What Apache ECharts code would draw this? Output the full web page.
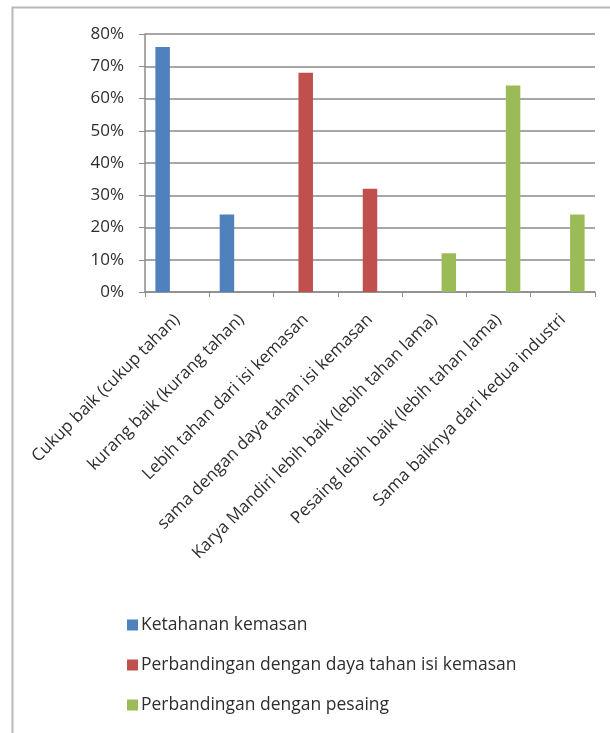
<!DOCTYPE html>
<html>
<head>
<meta charset="utf-8">
<script src="https://cdn.jsdelivr.net/npm/echarts@6/dist/echarts.min.js"></script>
<style>
  html, body { margin: 0; padding: 0; background: #fff; }
  #chart { width: 610px; height: 733px; }
</style>
</head>
<body>
<div id="chart"></div>
<script>
// Survey answers, one category per answer option
const categories = [
  'Cukup baik (cukup tahan)',
  'kurang baik (kurang tahan)',
  'Lebih tahan dari isi kemasan',
  'sama dengan daya tahan isi kemasan',
  'Karya Mandiri lebih baik (lebih tahan lama)',
  'Pesaing lebih baik (lebih tahan lama)',
  'Sama baiknya dari kedua industri'
];

const seriesNames = [
  'Ketahanan kemasan',
  'Perbandingan dengan daya tahan isi kemasan',
  'Perbandingan dengan pesaing'
];

// Percentages per series (null where the series has no answer)
const ketahanan = [76, 24, null, null, null, null, null];
const dayaTahan = [null, null, 68, 32, null, null, null];
const pesaing   = [null, null, null, null, 12, 64, 24];

const yTicks = [0, 10, 20, 30, 40, 50, 60, 70, 80];

const colors = ['#4F81BD', '#C0504D', '#9BBB59'];
const font = '"Open Sans", "DejaVu Sans", sans-serif';
const textColor = '#2e2e2e';

const chart = echarts.init(document.getElementById('chart'), null, { renderer: 'canvas' });

const mkSeries = (name, data, color) => ({
  name,
  type: 'bar',
  data,
  barWidth: 14.5,
  barGap: '0%',
  itemStyle: { color },
  emphasis: { disabled: true }
});

chart.setOption({
  animation: false,
  color: colors,
  graphic: [{
    type: 'rect',
    shape: { x: 12.5, y: 7.5, width: 640, height: 760 },
    style: { fill: 'none', stroke: '#b8b8b8', lineWidth: 2 },
    silent: true
  }],
  grid: { left: 145, right: 15, top: 34, height: 258, containLabel: false },
  legend: {
    orient: 'vertical',
    left: 127,
    top: 615,
    padding: 0,
    itemWidth: 11,
    itemHeight: 11,
    itemGap: 20,
    icon: 'rect',
    textStyle: {
      fontFamily: font, fontSize: 17.5, lineHeight: 20, color: textColor,
      padding: [0, 0, 0, -2]
    },
    data: seriesNames
  },
  xAxis: {
    type: 'category',
    data: categories,
    boundaryGap: true,
    axisLine: { lineStyle: { color: '#8c8c8c', width: 1.5 } },
    axisTick: { show: true, length: 5, lineStyle: { color: '#8c8c8c' } },
    axisLabel: {
      interval: 0,
      rotate: 45,
      margin: 25,
      fontFamily: font,
      fontSize: 17,
      color: textColor
    },
    splitLine: { show: false }
  },
  yAxis: {
    type: 'value',
    min: yTicks[0],
    max: yTicks[yTicks.length - 1],
    interval: 10,
    axisLine: { show: true, lineStyle: { color: '#8c8c8c', width: 1.5 } },
    axisTick: { show: true, length: 6, lineStyle: { color: '#8c8c8c' } },
    axisLabel: {
      formatter: v => v + '%',
      margin: 21,
      fontFamily: font,
      fontSize: 17,
      color: textColor
    },
    splitLine: { lineStyle: { color: '#8a8a8a', width: 1.5 } }
  },
  series: [
    mkSeries(seriesNames[0], ketahanan, colors[0]),
    mkSeries(seriesNames[1], dayaTahan, colors[1]),
    mkSeries(seriesNames[2], pesaing, colors[2])
  ]
});
</script>
</body>
</html>
